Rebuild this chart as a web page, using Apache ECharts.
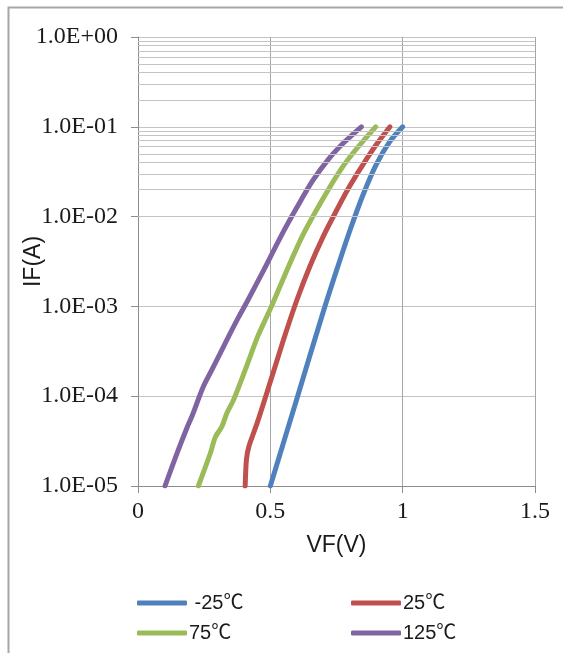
<!DOCTYPE html>
<html>
<head>
<meta charset="utf-8">
<script src="https://cdn.jsdelivr.net/npm/echarts@6/dist/echarts.min.js"></script>
<style>html,body{margin:0;padding:0;background:#fff;}#c{width:563px;height:653px;}</style>
</head>
<body>
<div id="c"></div>
<script>
// Data: [VF (V), IF (A)]
var seriesNames = ['-25℃', '25℃', '75℃', '125℃'];
var dataM25 = [[0.5,1e-5],[0.6,9.33e-5],[0.7,8.71e-4],[0.75,2.51e-3],[0.8,6.92e-3],[0.85,1.74e-2],[0.9,3.8e-2],[0.95,6.76e-2],[1.0,0.1]];
var data25 = [[0.405,1e-5],[0.41,2.0e-5],[0.42,2.82e-5],[0.45,5.01e-5],[0.5,1.45e-4],[0.55,4.27e-4],[0.6,1.17e-3],[0.65,2.82e-3],[0.7,6.03e-3],[0.75,1.17e-2],[0.8,2.19e-2],[0.85,3.8e-2],[0.9,6.31e-2],[0.952,0.1]];
var data75 = [[0.228,1e-5],[0.273,2.3e-5],[0.292,3.5e-5],[0.317,4.6e-5],[0.336,6.5e-5],[0.361,9.1e-5],[0.405,1.96e-4],[0.452,4.6e-4],[0.481,7.1e-4],[0.509,1.08e-3],[0.563,2.54e-3],[0.62,6.0e-3],[0.689,1.41e-2],[0.765,3.3e-2],[0.828,5.8e-2],[0.898,0.1]];
var data125 = [[0.102,1e-5],[0.147,2.3e-5],[0.187,4.6e-5],[0.203,5.9e-5],[0.247,1.28e-4],[0.279,1.96e-4],[0.342,4.6e-4],[0.38,7.59e-4],[0.415,1.17e-3],[0.475,2.54e-3],[0.54,6.03e-3],[0.6,1.26e-2],[0.66,2.51e-2],[0.72,4.37e-2],[0.78,6.76e-2],[0.844,0.1]];
var xTickLabels = ['0', '0.5', '1', '1.5'];
var yTickLabels = ['1.0E-05', '1.0E-04', '1.0E-03', '1.0E-02', '1.0E-01', '1.0E+00'];
var colors = ['#4F81BD', '#C0504D', '#9BBB59', '#8064A2'];

// minor gridline positions (2..9 of each decade)
var minorGrid = [];
for (var d = -5; d < 0; d++) {
  for (var m = 2; m <= 9; m++) minorGrid.push({yAxis: m * Math.pow(10, d)});
}

var serifFont = '"Liberation Serif", "DejaVu Serif", serif';
var sansFont = '"Liberation Sans", "Noto Sans CJK SC", sans-serif';

function mkSeries(name, data, color) {
  return {
    name: name, type: 'line', data: data, showSymbol: false, symbol: 'none',
    smooth: 0.3, z: 3,
    lineStyle: {width: 5, color: color, cap: 'round', join: 'round'},
    itemStyle: {color: color}
  };
}

var chart = echarts.init(document.getElementById('c'), null, {renderer: 'canvas'});
chart.setOption({
  animation: false,
  backgroundColor: '#ffffff',
  graphic: [{
    type: 'rect', left: 6, top: 5, shape: {width: 620, height: 700},
    style: {fill: 'none', stroke: '#a6a6a6', lineWidth: 2}, silent: true, z: -1
  }],
  grid: {left: 138, right: 28, top: 37, bottom: 167, containLabel: false, outerBoundsMode: 'none'},
  xAxis: {
    type: 'value', min: 0, max: 1.5, interval: 0.5,
    name: 'VF(V)', nameLocation: 'middle', nameGap: 48, nameMoveOverlap: false,
    nameTextStyle: {fontFamily: sansFont, fontSize: 23, color: '#1a1a1a'},
    axisLine: {show: true, lineStyle: {color: '#8c8c8c', width: 1}},
    axisTick: {show: true, length: 7, lineStyle: {color: '#8c8c8c'}},
    axisLabel: {
      fontFamily: serifFont, fontSize: 24, color: '#1a1a1a', margin: 14,
      formatter: function (v) { return xTickLabels[Math.round(v / 0.5)]; }
    },
    splitLine: {show: true, lineStyle: {color: '#a6a6a6', width: 1}}
  },
  yAxis: {
    type: 'log', logBase: 10, min: 1e-5, max: 1,
    name: 'IF(A)', nameLocation: 'middle', nameGap: 93, nameRotate: 90, nameMoveOverlap: false,
    nameTextStyle: {fontFamily: sansFont, fontSize: 23, color: '#1a1a1a'},
    axisLine: {show: true, lineStyle: {color: '#8c8c8c', width: 1}},
    axisTick: {show: true, length: 7, lineStyle: {color: '#8c8c8c'}},
    axisLabel: {
      fontFamily: serifFont, fontSize: 24, color: '#1a1a1a', margin: 20,
      formatter: function (v) { return yTickLabels[Math.round(Math.log10(v)) + 5]; }
    },
    splitLine: {show: true, lineStyle: {color: '#c4c4c4', width: 1.2}}
  },
  legend: [{
    orient: 'vertical', left: 132, top: 588, itemWidth: 50, itemHeight: 5, itemGap: 10,
    icon: 'roundRect',
    data: ['-25℃', '75℃'],
    formatter: function (n) { return n === '-25℃' ? ' ' + n : n; },
    textStyle: {fontFamily: sansFont, fontSize: 20, color: '#1a1a1a', padding: [0, 0, 0, -3]}
  }, {
    orient: 'vertical', left: 346, top: 588, itemWidth: 50, itemHeight: 5, itemGap: 10,
    icon: 'roundRect',
    data: ['25℃', '125℃'],
    textStyle: {fontFamily: sansFont, fontSize: 20, color: '#1a1a1a', padding: [0, 0, 0, -3]}
  }],
  series: [
    {
      name: 'grid', type: 'line', data: [], silent: true, z: 1,
      markLine: {
        silent: true, symbol: 'none', label: {show: false},
        lineStyle: {color: '#c4c4c4', width: 1.2, type: 'solid'},
        data: minorGrid
      }
    },
    mkSeries(seriesNames[0], dataM25, colors[0]),
    mkSeries(seriesNames[1], data25, colors[1]),
    mkSeries(seriesNames[2], data75, colors[2]),
    mkSeries(seriesNames[3], data125, colors[3])
  ]
});
</script>
</body>
</html>
